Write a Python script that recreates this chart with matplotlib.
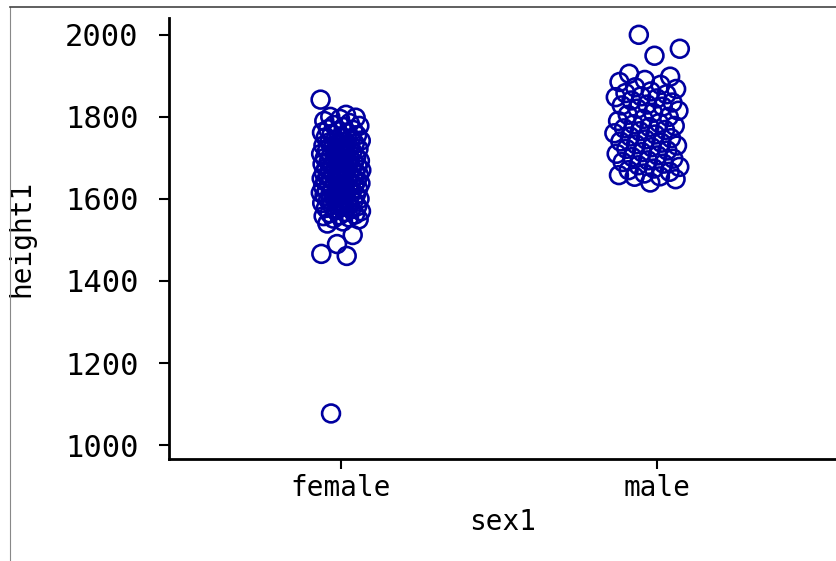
import numpy as np
import matplotlib
matplotlib.use("Agg")
import matplotlib.pyplot as plt
from matplotlib.lines import Line2D

categories = ["female", "male"]

female_height = [
    1842, 1805, 1800, 1798, 1795, 1790, 1785, 1780, 1778, 1775, 1770, 1768,
    1765, 1762, 1760, 1758, 1755, 1752, 1750, 1748, 1745, 1742, 1740, 1738,
    1735, 1732, 1730, 1728, 1725, 1722, 1720, 1718, 1715, 1712, 1710, 1708,
    1705, 1702, 1700, 1700, 1698, 1695, 1693, 1690, 1690, 1688, 1685, 1685,
    1683, 1680, 1680, 1678, 1675, 1675, 1672, 1670, 1670, 1668, 1665, 1665,
    1663, 1660, 1660, 1658, 1655, 1655, 1653, 1650, 1650, 1650, 1648, 1645,
    1645, 1643, 1640, 1640, 1638, 1635, 1635, 1633, 1630, 1630, 1628, 1625,
    1625, 1623, 1620, 1620, 1618, 1615, 1615, 1612, 1610, 1610, 1608, 1605,
    1603, 1600, 1600, 1598, 1595, 1592, 1590, 1588, 1585, 1582, 1580, 1578,
    1575, 1572, 1570, 1568, 1565, 1562, 1560, 1558, 1555, 1552, 1550, 1545,
    1540, 1512, 1490, 1466, 1461, 1077,
]

male_height = [
    2000, 1966, 1949, 1905, 1898, 1890, 1885, 1878, 1872, 1868, 1862, 1858,
    1855, 1850, 1848, 1845, 1840, 1835, 1830, 1828, 1825, 1820, 1815, 1810,
    1805, 1800, 1795, 1790, 1785, 1782, 1778, 1775, 1772, 1768, 1765, 1760,
    1757, 1752, 1748, 1745, 1740, 1737, 1733, 1730, 1726, 1722, 1718, 1714,
    1710, 1706, 1702, 1698, 1694, 1690, 1686, 1682, 1678, 1674, 1670, 1666,
    1662, 1658, 1655, 1654, 1648, 1640,
]

y_ticks = [1000, 1200, 1400, 1600, 1800, 2000]

plt.rcParams['font.family'] = ['DejaVu Sans Mono']

fig = plt.figure(figsize=(8.36, 5.61), dpi=100)
ax = fig.add_axes([169/836, 1 - 459/561, 1 - 169/836, (459 - 18)/561])

color = '#0000A0'
jitter_widths = [0.065, 0.105]
jitter_shift = [0.0, -0.03]
for i, (cat, vals) in enumerate(zip(categories, [female_height, male_height])):
    n = len(vals)
    frac = (np.arange(n) * 0.6180339887 + 0.37 * i) % 1.0
    xs = i + jitter_shift[i] + (frac - 0.5) * 2 * jitter_widths[i]
    ax.scatter(xs, vals, s=165, facecolors='none', edgecolors=color,
               linewidths=1.9, zorder=3)

ax.set_xlim(-0.545, 1.567)
ax.set_ylim(966, 2041)
ax.set_xticks(range(len(categories)))
ax.set_xticklabels(categories)
ax.set_yticks(y_ticks)
ax.set_yticklabels([str(t) for t in y_ticks])
ax.tick_params(axis='both', length=7, width=1.5, direction='out')
ax.tick_params(axis='x', labelsize=20, pad=4)
ax.tick_params(axis='y', labelsize=22, pad=15)
for s in ['top', 'right']:
    ax.spines[s].set_visible(False)
for s in ['left', 'bottom']:
    ax.spines[s].set_linewidth(2)
ax.set_xlabel('sex1', fontsize=20, labelpad=4)
ax.set_ylabel('height1', fontsize=20, labelpad=21)

fig.add_artist(Line2D([10/836, 10/836], [0, 1 - 7/561], color='#888888', lw=0.8))
fig.add_artist(Line2D([10/836, 1], [1 - 7/561, 1 - 7/561], color='#444444', lw=1.2))

fig.savefig('out.png', dpi=100)
